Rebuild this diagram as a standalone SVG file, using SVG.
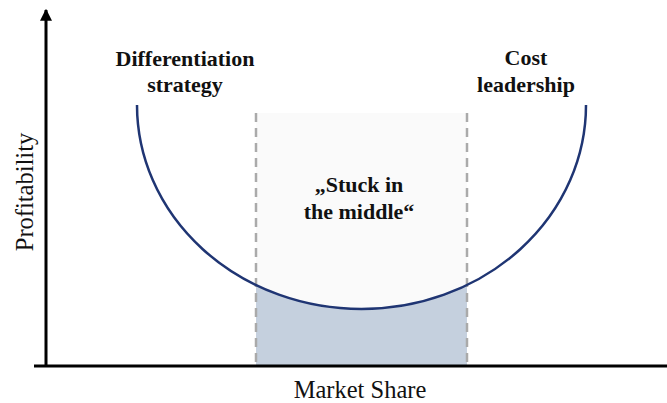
<svg xmlns="http://www.w3.org/2000/svg" width="667" height="403" viewBox="0 0 667 403">
<style>
.lbl{font-family:'Liberation Serif',Tinos,'DejaVu Serif',serif;font-weight:bold;font-size:22px;fill:#111;text-anchor:middle}
.ax{font-family:'Liberation Serif',Tinos,'DejaVu Serif',serif;font-size:24.5px;fill:#111;text-anchor:middle}
.dash{stroke:#aaaaaa;stroke-width:2.5;stroke-dasharray:9 6;fill:none}
</style>
<defs>
<marker id="arr" viewBox="0 0 10 10" refX="9" refY="5" markerWidth="4" markerHeight="4" orient="auto" markerUnits="strokeWidth">
<path d="M0 0 L10 5 L0 10 Z" fill="#000"/>
</marker>
<clipPath id="mid"><rect x="256" y="113" width="211" height="252"/></clipPath>
</defs>
<rect width="667" height="403" fill="#fff"/>
<g id="middle-zone">
<rect x="256" y="113" width="211" height="252" fill="#fafafa"/>
<path d="M137 105 A224.5 204 0 0 0 586 105 L586 365 L137 365 Z" fill="#c5d0de" clip-path="url(#mid)"/>
</g>
<g id="connectors">
<line class="dash" x1="256" y1="113" x2="256" y2="365"/>
<line class="dash" x1="467" y1="113" x2="467" y2="365"/>
<path d="M137 105 A224.5 204 0 0 0 586 105" fill="none" stroke="#1f3573" stroke-width="2.5"/>
<line x1="46" y1="366" x2="46" y2="10" stroke="#000" stroke-width="3" marker-end="url(#arr)"/>
<line x1="34" y1="366" x2="667" y2="366" stroke="#000" stroke-width="3"/>
</g>
<g id="differentiation">
<text class="lbl" x="185" y="66">Differentiation</text>
<text class="lbl" x="185" y="92">strategy</text>
</g>
<g id="cost">
<text class="lbl" x="526" y="65">Cost</text>
<text class="lbl" x="526" y="92">leadership</text>
</g>
<g id="stuck">
<text class="lbl" x="359" y="192">„Stuck in</text>
<text class="lbl" x="359" y="219">the middle“</text>
</g>
<g id="axes-labels">
<text class="ax" x="360" y="398">Market Share</text>
<text class="ax" transform="translate(33 192) rotate(-90)">Profitability</text>
</g>
</svg>
